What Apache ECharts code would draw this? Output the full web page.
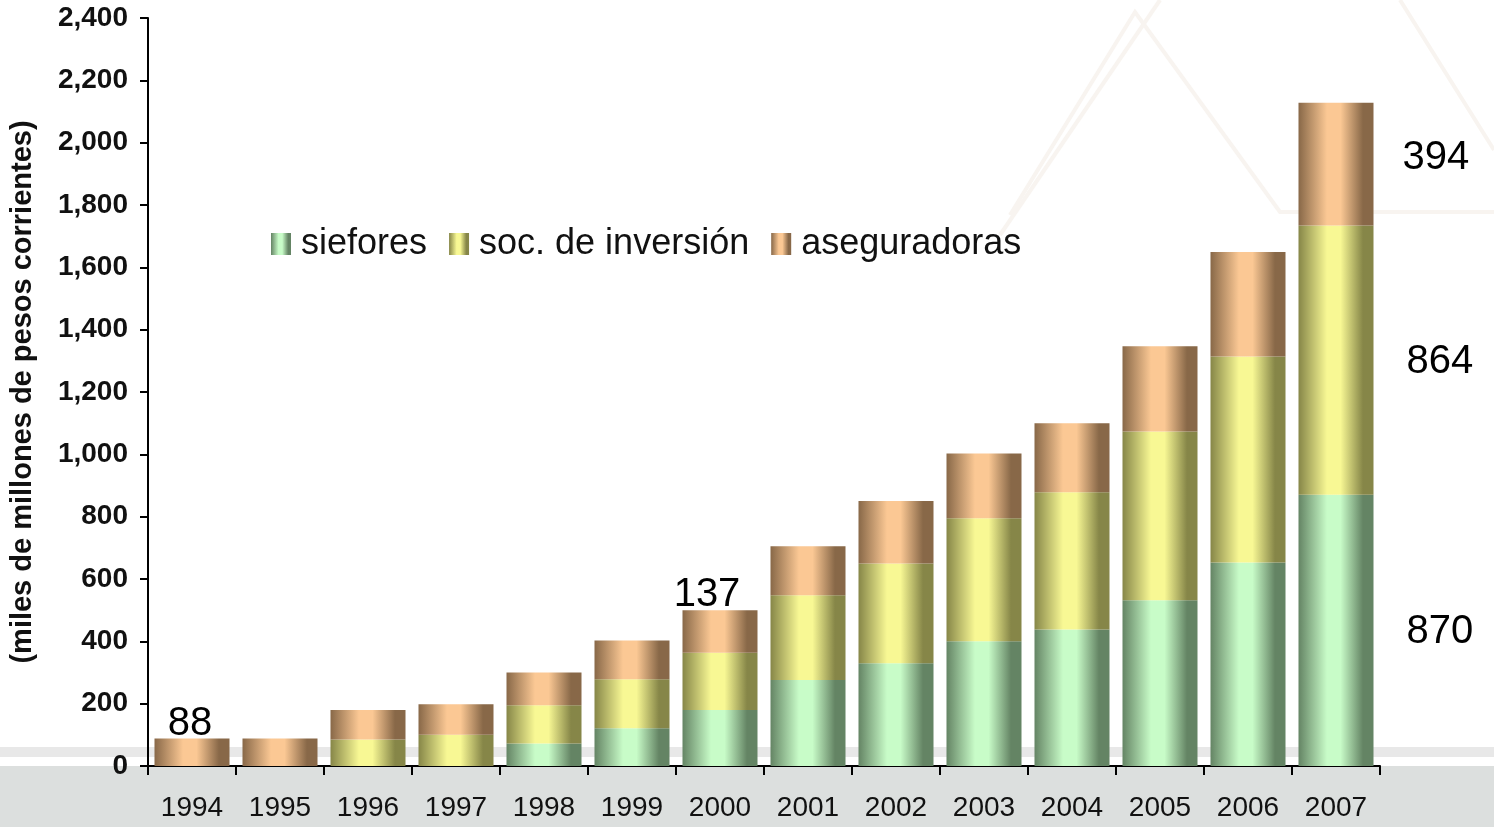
<!DOCTYPE html>
<html>
<head>
<meta charset="utf-8">
<style>
  html, body { margin: 0; padding: 0; background: #fff; }
  #chart { width: 1494px; height: 827px; }
</style>
<script src="https://cdn.jsdelivr.net/npm/echarts@6/dist/echarts.min.js"></script>
</head>
<body>
<div id="chart"></div>
<script>
var years = ['1994', '1995', '1996', '1997', '1998', '1999', '2000', '2001', '2002', '2003', '2004', '2005', '2006', '2007'];
var siefores = [0, 0, 0, 0, 72, 121, 180, 276, 330, 400, 438, 532, 653, 870];
var socInversion = [0, 0, 85, 100, 123, 157, 183, 272, 320, 395, 440, 541, 661, 864];
var aseguradoras = [88, 88, 95, 98, 105, 125, 137, 157, 200, 208, 222, 274, 335, 394];
var seriesNames = ['siefores', 'soc. de inversión', 'aseguradoras'];
// which points carry a value label: above the bar / right of the bar
var labelsAbove = [0, 6];
var labelsRight = [13];

function barColor(light, dark) {
  return new echarts.graphic.LinearGradient(0, 0, 1, 0, [
    { offset: 0, color: dark },
    { offset: 0.38, color: light },
    { offset: 0.56, color: light },
    { offset: 0.86, color: dark },
    { offset: 1, color: dark }
  ]);
}

function buildData(values, withTop, rightOffset) {
  return values.map(function (v, i) {
    if (labelsRight.indexOf(i) >= 0) {
      return { value: v, label: { show: true, position: 'right', distance: 33, offset: rightOffset } };
    }
    if (withTop && labelsAbove.indexOf(i) >= 0) {
      // the 2000 label sits a bit left of its bar
      var dx = i === 6 ? -13 : -2;
      return { value: v, label: { show: true, position: 'top', distance: 0, offset: [dx, 5] } };
    }
    return v;
  });
}

var labelStyle = { fontFamily: 'Liberation Sans', fontSize: 40, color: '#000' };

var chart = echarts.init(document.getElementById('chart'));
chart.setOption({
  backgroundColor: '#fff',
  textStyle: { fontFamily: 'Liberation Sans' },
  graphic: [
    { type: 'rect', z: -10, silent: true, shape: { x: 0, y: 766, width: 1494, height: 61 }, style: { fill: '#dcdfde' } },
    { type: 'rect', z: -10, silent: true, shape: { x: 0, y: 747, width: 1494, height: 10 }, style: { fill: '#e8e8e8' } },
    { type: 'polyline', z: -10, silent: true, shape: { points: [[1010, 215], [1135, 12], [1280, 212], [1494, 212]] }, style: { stroke: '#f8f4f0', lineWidth: 4, fill: null } },
    { type: 'polyline', z: -10, silent: true, shape: { points: [[1000, 235], [1160, 0]] }, style: { stroke: '#f8f4f0', lineWidth: 4, fill: null } },
    { type: 'polyline', z: -10, silent: true, shape: { points: [[1400, 0], [1494, 150]] }, style: { stroke: '#f8f4f0', lineWidth: 4, fill: null } }
  ],
  legend: {
    data: seriesNames,
    icon: 'rect',
    left: 266,
    top: 221,
    itemWidth: 20,
    itemHeight: 22,
    itemGap: 22,
    textStyle: { fontFamily: 'Liberation Sans', fontSize: 36, color: '#111', padding: [0, 0, 0, 5] }
  },
  grid: { left: 148, right: 114, top: 18, bottom: 61, outerBoundsMode: 'none', containLabel: false },
  xAxis: {
    type: 'category',
    data: years,
    axisLine: { lineStyle: { color: '#000', width: 2 } },
    axisTick: { show: true, length: 9, lineStyle: { color: '#000', width: 2 } },
    axisLabel: { fontFamily: 'Liberation Sans', fontSize: 28, color: '#111', margin: 28 }
  },
  yAxis: {
    type: 'value',
    min: 0,
    max: 2400,
    interval: 200,
    name: '(miles de millones de pesos corrientes)',
    nameLocation: 'middle',
    nameGap: 111,
    nameTextStyle: { fontFamily: 'Liberation Sans', fontWeight: 'bold', fontSize: 29, color: '#111' },
    axisLine: { show: true, lineStyle: { color: '#000', width: 2 } },
    axisTick: { show: true, length: 8, lineStyle: { color: '#000', width: 2 } },
    splitLine: { show: false },
    axisLabel: {
      fontFamily: 'Liberation Sans', fontWeight: 'bold', fontSize: 28, color: '#111', margin: 20,
      formatter: function (v) { return v.toLocaleString('en-US'); }
    }
  },
  series: [
    {
      name: seriesNames[0], type: 'bar', stack: 'total', barWidth: 75,
      itemStyle: { color: barColor('#c8fcc8', '#648464') },
      label: labelStyle,
      data: buildData(siefores, false, [0, 2])
    },
    {
      name: seriesNames[1], type: 'bar', stack: 'total', barWidth: 75,
      itemStyle: { color: barColor('#f8f894', '#868648') },
      label: labelStyle,
      data: buildData(socInversion, false, [0, 2])
    },
    {
      name: seriesNames[2], type: 'bar', stack: 'total', barWidth: 75,
      itemStyle: { color: barColor('#fbc894', '#886848') },
      label: labelStyle,
      data: buildData(aseguradoras, true, [-4, -6])
    }
  ]
});
</script>
</body>
</html>
